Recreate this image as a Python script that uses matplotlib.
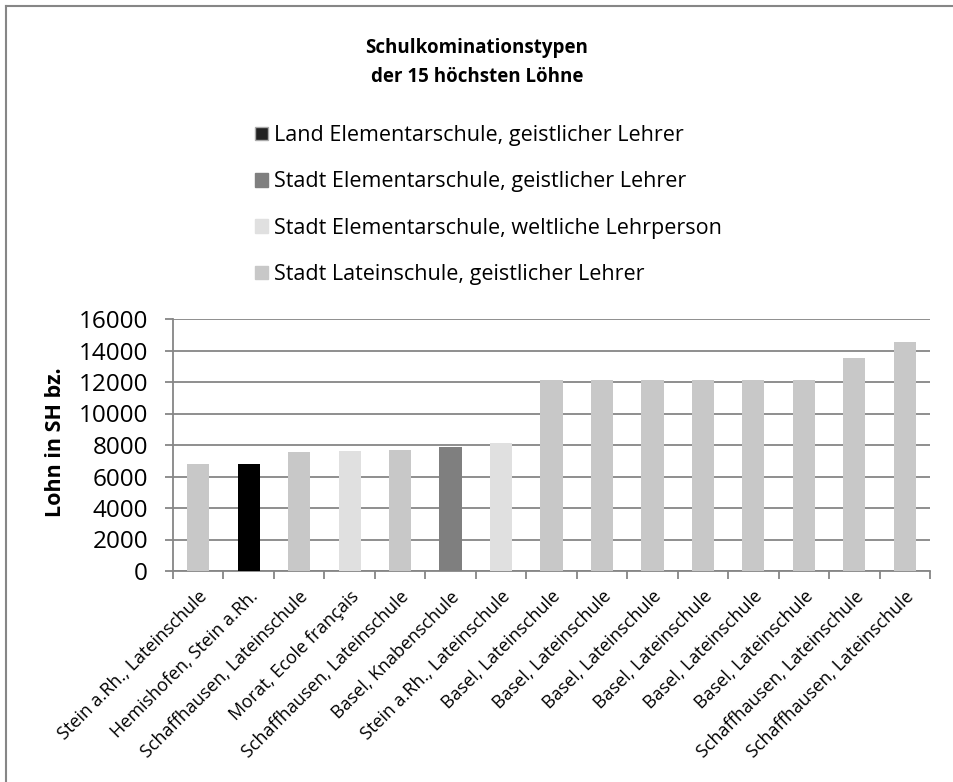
import numpy as np
import matplotlib
matplotlib.use("Agg")
import matplotlib.pyplot as plt
from matplotlib.lines import Line2D

plt.rcParams['font.family'] = ['Open Sans', 'DejaVu Sans']

categories = [
    "Stein a.Rh., Lateinschule", "Hemishofen, Stein a.Rh.",
    "Schaffhausen, Lateinschule", "Morat, Ecole français",
    "Schaffhausen, Lateinschule", "Basel, Knabenschule",
    "Stein a.Rh., Lateinschule", "Basel, Lateinschule",
    "Basel, Lateinschule", "Basel, Lateinschule", "Basel, Lateinschule",
    "Basel, Lateinschule", "Basel, Lateinschule",
    "Schaffhausen, Lateinschule", "Schaffhausen, Lateinschule",
]
series_names = [
    "Land Elementarschule, geistlicher Lehrer",
    "Stadt Elementarschule, geistlicher Lehrer",
    "Stadt Elementarschule, weltliche Lehrperson",
    "Stadt Lateinschule, geistlicher Lehrer",
]
land_elem = [0, 6800, 0, 0, 0, 0, 0, 0, 0, 0, 0, 0, 0, 0, 0]
stadt_elem_geistl = [0, 0, 0, 0, 0, 7900, 0, 0, 0, 0, 0, 0, 0, 0, 0]
stadt_elem_weltl = [0, 0, 0, 7650, 0, 0, 8150, 0, 0, 0, 0, 0, 0, 0, 0]
stadt_latein = [6800, 0, 7560, 0, 7700, 0, 0, 12150, 12150, 12150, 12150,
                12150, 12150, 13550, 14520]
colors = ["#000000", "#7f7f7f", "#e0e0e0", "#c8c8c8"]

fig = plt.figure(figsize=(9.54, 7.82), dpi=100)
ax = fig.add_axes([173 / 954, 1 - 571 / 782, 757 / 954, 252 / 782])

x = np.arange(len(categories))
bottom = np.zeros(len(categories))
for vals, c in zip([land_elem, stadt_elem_geistl, stadt_elem_weltl, stadt_latein], colors):
    ax.bar(x, vals, width=0.44, bottom=bottom, color=c, zorder=3)
    bottom += np.array(vals)

ax.set_xlim(-0.5, len(categories) - 0.5)
ax.set_ylim(0, 16000)
ax.set_yticks(np.arange(0, 16001, 2000))
ax.yaxis.grid(True, color="#868686", linewidth=1.3, zorder=0)
ax.set_axisbelow(True)

# category labels at 45 degrees, tick marks between categories
ax.set_xticks(x)
ax.set_xticklabels(categories, rotation=45, ha="right", rotation_mode="anchor",
                   fontsize=13)
ax.tick_params(axis="x", length=0, pad=12)
ax.set_xticks(np.arange(-0.5, len(categories)), minor=True)
ax.tick_params(axis="x", which="minor", length=6, width=1.3, color="#868686", direction="out")
ax.tick_params(axis="y", length=6, width=1.3, color="#868686", labelsize=17.5, pad=12)

for s in ["top", "right"]:
    ax.spines[s].set_visible(False)
for s in ["left", "bottom"]:
    ax.spines[s].set_color("#868686")
    ax.spines[s].set_linewidth(1.3)

ax.set_ylabel("Lohn in SH bz.", fontsize=15.5, fontweight="bold")
ax.yaxis.set_label_coords(-0.141, 0.51)

fig.text(0.5, 1 - 62 / 782, "Schulkominationstypen\nder 15 höchsten Löhne",
         ha="center", va="center", fontsize=13.5, fontweight="bold", linespacing=1.6)

handles = [plt.Rectangle((0, 0), 1, 1, color=c) for c in colors]
handles[0] = plt.Rectangle((0, 0), 1, 1, facecolor="#222222", edgecolor="#aaaaaa")
fig.legend(handles, series_names, loc="upper left",
           bbox_to_anchor=(255 / 954, 1 - 125 / 782), frameon=False,
           fontsize=15.5, labelspacing=1.18, handlelength=0.6, handleheight=0.6,
           handletextpad=0.3, borderaxespad=0, borderpad=0)

fig.add_artist(Line2D([6 / 954, 6 / 954], [0, 1 - 6 / 782], color="#868686", linewidth=1.5))
fig.add_artist(Line2D([6 / 954, 1], [1 - 6 / 782, 1 - 6 / 782], color="#868686", linewidth=1.5))

fig.savefig("out.png", dpi=100)
